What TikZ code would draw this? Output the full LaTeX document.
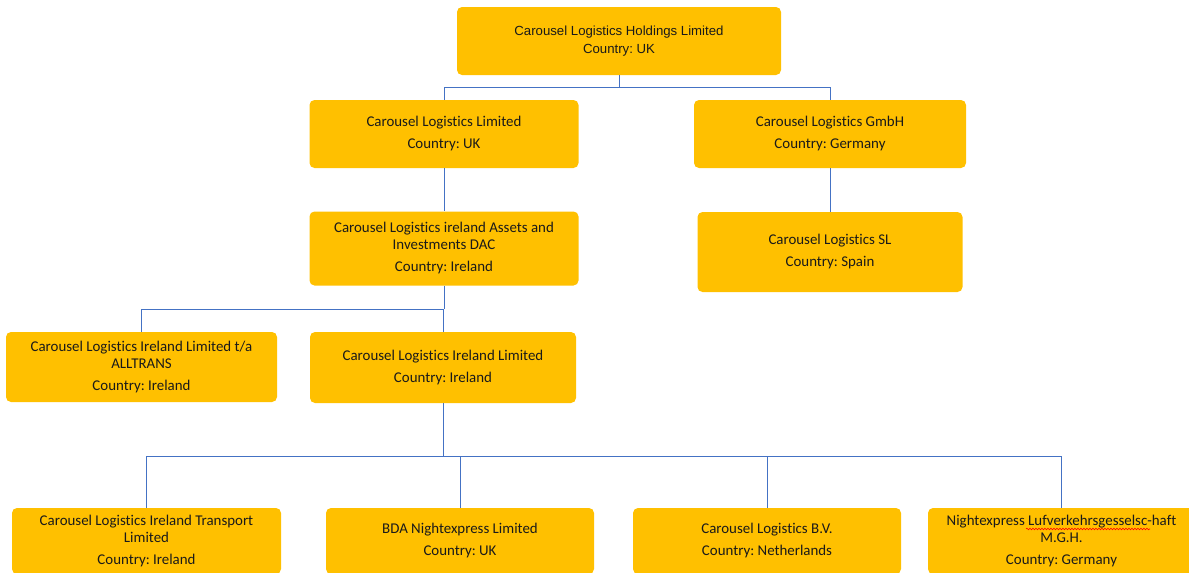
\documentclass[tikz,border=0pt]{standalone}
\usepackage{fontspec}
\setmainfont{Carlito}[Ligatures=NoCommon]
\newfontfamily\arialf{Liberation Sans}
\usetikzlibrary{decorations.pathmorphing}
\definecolor{boxfill}{HTML}{FFC000}
\definecolor{linkblue}{HTML}{4472C4}
\definecolor{txt}{HTML}{1A1A1A}
\frenchspacing
\tikzset{
  orgbox/.style={fill=boxfill, rounded corners=5pt, inner sep=0pt, align=center, text=txt,
    font=\fontsize{14.9}{17}\selectfont},
  conn/.style={draw=linkblue, line width=1pt},
}
\begin{document}
\begin{tikzpicture}[x=1pt,y=-1pt]
\useasboundingbox (0,0) rectangle (1189,573);
% boxes
\node[orgbox, minimum width=324pt, minimum height=68pt, font=\arialf\fontsize{13.2}{18}\selectfont] (top) at (619,41) {Carousel Logistics Holdings Limited\\Country: UK};
\node[orgbox, minimum width=269pt, minimum height=68pt] (cll) at (444,134) {Carousel Logistics Limited\\[5pt]Country: UK};
\node[orgbox, minimum width=272pt, minimum height=68pt] (gmbh) at (830,134) {Carousel Logistics GmbH\\[5pt]Country: Germany};
\node[orgbox, minimum width=269pt, minimum height=74pt] (assets) at (444,248.5) {Carousel Logistics ireland Assets and\\Investments DAC\\[5pt]Country: Ireland};
\node[orgbox, minimum width=265pt, minimum height=80pt] (sl) at (830,252) {Carousel Logistics SL\\[5pt]Country: Spain};
\node[orgbox, minimum width=271pt, minimum height=70pt] (alltrans) at (141.5,367) {Carousel Logistics Ireland Limited t/a\\ALLTRANS\\[5pt]Country: Ireland};
\node[orgbox, minimum width=266pt, minimum height=71pt] (clil) at (443,367.5) {Carousel Logistics Ireland Limited\\[5pt]Country: Ireland};
\node[orgbox, minimum width=269pt, minimum height=66pt] (transport) at (146.5,541) {Carousel Logistics Ireland Transport\\Limited\\[5pt]Country: Ireland};
\node[orgbox, minimum width=268pt, minimum height=66pt] (bda) at (460,541) {BDA Nightexpress Limited\\[5pt]Country: UK};
\node[orgbox, minimum width=268pt, minimum height=66pt] (bv) at (767,541) {Carousel Logistics B.V.\\[5pt]Country: Netherlands};
\node[orgbox, minimum width=267pt, minimum height=66pt] (night) at (1061.5,541) {Nightexpress Lufverkehrsgesselsc-haft\\M.G.H.\\[5pt]Country: Germany};
% spell-check squiggle
\draw[red, line width=0.6pt, decorate, decoration={snake, amplitude=0.8pt, segment length=3pt}] (1026,529) -- (1150,529);
% junctions
\coordinate (j1) at (619,87);
\coordinate (j2) at (444,309);
\coordinate (j3) at (443,456);
% connectors
\draw[conn] (top.south) -- (j1);
\draw[conn] (j1) -| (cll.north);
\draw[conn] (j1) -| (gmbh.north);
\draw[conn] (cll.south) -- (assets.north);
\draw[conn] (gmbh.south) -- (sl.north);
\draw[conn] (assets.south) -- (j2);
\draw[conn] (j2) -| (alltrans.north);
\draw[conn] (j2) -| (clil.north);
\draw[conn] (clil.south) -- (j3);
\draw[conn] (j3) -| (transport.north);
\draw[conn] (j3) -| (bda.north);
\draw[conn] (j3) -| (bv.north);
\draw[conn] (j3) -| (night.north);
\end{tikzpicture}
\end{document}
